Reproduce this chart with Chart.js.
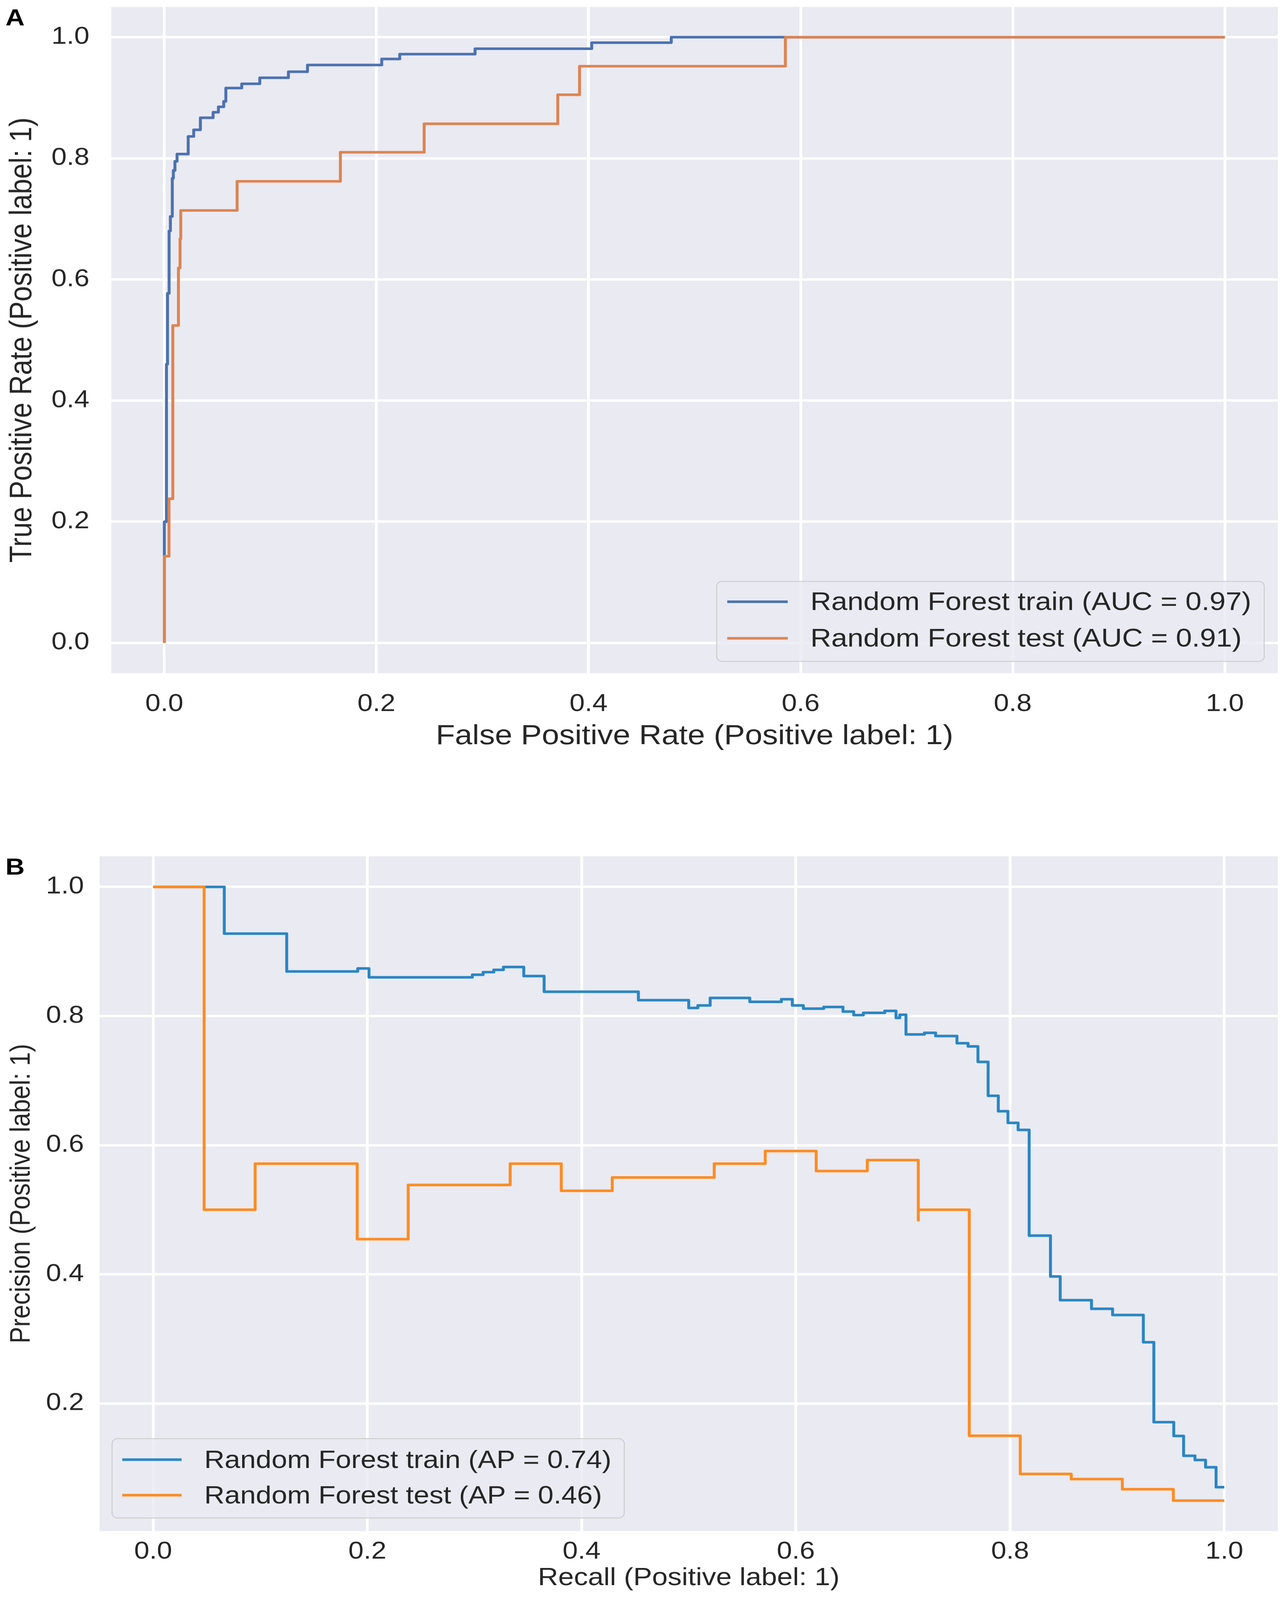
<!DOCTYPE html>
<html>
<head>
<meta charset="utf-8">
<script src="https://cdn.jsdelivr.net/npm/chart.js@4.4.1/dist/chart.umd.min.js"></script>
<style>
  html { overflow: hidden; }
  html, body { margin: 0; padding: 0; background: #fff; }
  body { width: 3280px; height: 4640px; position: relative; overflow: hidden; font-family: "Liberation Sans", Arial, sans-serif; transform-origin: 0 0; }
  .panel { position: absolute; left: 0; width: 3280px; }
  #wrapA { top: 0; height: 2250px; }
  #wrapB { top: 2300px; height: 2340px; }
  .tag { position: absolute; font-weight: bold; font-size: 68px; line-height: 1; color: #000; }
</style>
</head>
<body>
<div class="panel" id="wrapA"><canvas id="rocChart" width="3280" height="2250" style="width:3280px;height:2250px"></canvas></div>
<div class="panel" id="wrapB"><canvas id="prChart" width="3280" height="2340" style="width:3280px;height:2340px"></canvas></div>
<div class="tag" style="left:14px;top:16px">A</div>
<div class="tag" style="left:14px;top:2478px">B</div>
<script>
// ROC curve (panel A), step corners
var rocTrainFpr = [0, 0.002, 0.003, 0.0045, 0.0057, 0.0075, 0.0085, 0.010, 0.012, 0.0225, 0.0277, 0.034, 0.046, 0.051, 0.056, 0.058, 0.073, 0.090, 0.117, 0.135, 0.205, 0.222, 0.293, 0.403, 0.478, 1.0];
var rocTrainTpr = [0, 0.2, 0.46, 0.577, 0.68, 0.704, 0.767, 0.78, 0.795, 0.807, 0.836, 0.847, 0.867, 0.876, 0.885, 0.894, 0.916, 0.923, 0.933, 0.943, 0.954, 0.964, 0.972, 0.981, 0.991, 1.0];
var rocTestFpr = [0, 0.0044, 0.008, 0.0133, 0.0148, 0.0155, 0.0686, 0.166, 0.245, 0.371, 0.3915, 0.5856, 1.0];
var rocTestTpr = [0, 0.143, 0.238, 0.524, 0.619, 0.667, 0.714, 0.762, 0.810, 0.857, 0.905, 0.952, 1.0];

// precision-recall curve (panel B)
var prTrainRecall = [0, 0.0664, 0.1247, 0.191, 0.2015, 0.298, 0.308, 0.318, 0.327, 0.346, 0.365, 0.453, 0.500, 0.5085, 0.520, 0.557, 0.5865, 0.5967, 0.607, 0.626, 0.644, 0.654, 0.663, 0.683, 0.6935, 0.697, 0.7028, 0.720, 0.7305, 0.7504, 0.7608, 0.770, 0.7795, 0.789, 0.798, 0.8075, 0.8178, 0.8377, 0.8468, 0.876, 0.8957, 0.9244, 0.9342, 0.9528, 0.962, 0.9726, 0.9825, 0.9923, 1.0];
var prTrainPrecision = [1.0, 1.0, 0.9276, 0.869, 0.8737, 0.860, 0.864, 0.868, 0.8715, 0.876, 0.862, 0.8377, 0.8246, 0.8126, 0.8164, 0.828, 0.822, 0.826, 0.8164, 0.8115, 0.814, 0.807, 0.8015, 0.805, 0.808, 0.797, 0.802, 0.7716, 0.774, 0.769, 0.758, 0.753, 0.729, 0.6765, 0.6526, 0.6346, 0.6237, 0.460, 0.3967, 0.360, 0.3466, 0.337, 0.2949, 0.1711, 0.1498, 0.119, 0.1125, 0.1013, 0.0705];
var prTestRecall = [0, 0.0476, 0.0952, 0.1905, 0.2381, 0.3333, 0.381, 0.4286, 0.5238, 0.5714, 0.619, 0.6667, 0.7143, 0.7143, 0.7619, 0.8095, 0.8571, 0.9048, 0.9524, 1.0];
var prTestPrecision = [1.0, 1.0, 0.5, 0.5714, 0.4545, 0.5385, 0.5714, 0.5294, 0.55, 0.5714, 0.5909, 0.56, 0.5769, 0.4839, 0.5, 0.15, 0.0909, 0.083, 0.0672, 0.0496];

var unitTicks = [0, 0.2, 0.4, 0.6, 0.8, 1.0];
var prYTicks = [0.2, 0.4, 0.6, 0.8, 1.0];

var rocLabels = ['Random Forest train (AUC = 0.97)', 'Random Forest test (AUC = 0.91)'];
var prLabels = ['Random Forest train (AP = 0.74)', 'Random Forest test (AP = 0.46)'];
var rocTitles = ['False Positive Rate (Positive label: 1)', 'True Positive Rate (Positive label: 1)'];
var prTitles = ['Recall (Positive label: 1)', 'Precision (Positive label: 1)'];

var FONT = "'Liberation Sans', Arial, sans-serif";
var TEXT = '#262626';
var PLOT_BG = '#eaeaf2';

// the figure is 4640 tall; squeeze it to the window if the window is shorter
(function fitHeight() {
    var h = window.innerHeight;
    if (h > 1000 && h < 4640) {
        document.body.style.transform = 'scale(1,' + (h / 4640) + ')';
    }
})();

function toPoints(xs, ys) {
    var pts = [];
    for (var i = 0; i < xs.length; i++) {
        pts.push({x: xs[i], y: ys[i]});
    }
    return pts;
}

function curve(label, xs, ys, color, order) {
    return {
        label: label,
        data: toPoints(xs, ys),
        borderColor: color,
        backgroundColor: color,
        borderWidth: 7.5,
        borderJoinStyle: 'round',
        pointRadius: 0,
        stepped: 'after',
        fill: false,
        order: order
    };
}

function roundedRect(ctx, x, y, w, h, r) {
    ctx.beginPath();
    ctx.moveTo(x + r, y);
    ctx.lineTo(x + w - r, y);
    ctx.arcTo(x + w, y, x + w, y + r, r);
    ctx.lineTo(x + w, y + h - r);
    ctx.arcTo(x + w, y + h, x + w - r, y + h, r);
    ctx.lineTo(x + r, y + h);
    ctx.arcTo(x, y + h, x, y + h - r, r);
    ctx.lineTo(x, y + r);
    ctx.arcTo(x, y, x + r, y, r);
    ctx.closePath();
}

var plotBackground = {
    id: 'plotBackground',
    beforeDraw: function(chart) {
        var a = chart.chartArea, ctx = chart.ctx;
        ctx.save();
        ctx.fillStyle = PLOT_BG;
        ctx.fillRect(a.left, a.top, a.right - a.left, a.bottom - a.top);
        ctx.restore();
    }
};

// matplotlib style framed legend inside the plot area
function boxLegend(o) {
    return {
        id: 'boxLegend',
        afterDraw: function(chart) {
            var ctx = chart.ctx, a = chart.chartArea;
            var sets = chart.data.datasets;
            ctx.save();
            ctx.font = o.fontSize + 'px ' + FONT;
            var textW = 0;
            sets.forEach(function(d) { textW = Math.max(textW, ctx.measureText(d.label).width); });
            var w = o.padLeft + o.sample + o.gap + textW + o.padRight;
            var x = o.side === 'right' ? a.right - o.inset - w : a.left + o.inset;
            var y = a.bottom - o.insetBottom - o.height;
            roundedRect(ctx, x, y, w, o.height, 14);
            ctx.fillStyle = 'rgba(234,234,242,0.8)';
            ctx.fill();
            ctx.lineWidth = 2.5;
            ctx.strokeStyle = '#cccccc';
            ctx.stroke();
            sets.forEach(function(d, i) {
                var rowY = y + o.firstRow + i * o.rowGap;
                ctx.beginPath();
                ctx.moveTo(x + o.padLeft, rowY);
                ctx.lineTo(x + o.padLeft + o.sample, rowY);
                ctx.strokeStyle = d.borderColor;
                ctx.lineWidth = d.borderWidth;
                ctx.stroke();
                ctx.fillStyle = TEXT;
                ctx.textAlign = 'left';
                ctx.textBaseline = 'middle';
                ctx.fillText(d.label, x + o.padLeft + o.sample + o.gap, rowY + 4);
            });
            ctx.restore();
        }
    };
}

function linearAxis(o) {
    return {
        type: 'linear',
        min: o.min,
        max: o.max,
        afterBuildTicks: function(scale) {
            scale.ticks = o.ticks.map(function(v) { return {value: v}; });
        },
        afterFit: function(scale) {
            // fixed axis boxes so the plot area sits where it does in the figure
            if (o.width) scale.width = o.width;
            if (o.height) scale.height = o.height;
            scale.paddingTop = 0;
            scale.paddingBottom = 0;
            scale.paddingLeft = 0;
            scale.paddingRight = 0;
        },
        grid: { color: '#ffffff', lineWidth: 7, drawTicks: false },
        border: { display: false },
        ticks: {
            color: TEXT,
            font: { family: FONT, size: o.tickSize },
            padding: o.tickPad,
            autoSkip: false,
            maxRotation: 0,
            includeBounds: false,
            callback: function(v) { return Number(v).toFixed(1); }
        },
        title: {
            display: true,
            text: o.title,
            color: TEXT,
            font: { family: FONT, size: o.titleSize },
            padding: o.titlePad
        }
    };
}

new Chart(document.getElementById('rocChart'), {
    type: 'line',
    data: {
        datasets: [
            curve(rocLabels[0], rocTrainFpr, rocTrainTpr, '#4c72b0', 1),
            curve(rocLabels[1], rocTestFpr, rocTestTpr, '#dd8452', 0)
        ]
    },
    options: {
        responsive: false,
        devicePixelRatio: 1,
        animation: false,
        events: [],
        layout: { padding: { top: 20, right: 8, left: 0, bottom: 0 } },
        plugins: { legend: { display: false }, tooltip: { enabled: false } },
        scales: {
            x: linearAxis({ min: -0.05, max: 1.05, ticks: unitTicks, height: 298, tickSize: 70, tickPad: 49,
                title: rocTitles[0], titleSize: 80, titlePad: { top: 0, bottom: 66 } }),
            y: linearAxis({ min: -0.05, max: 1.05, ticks: unitTicks, width: 285, tickSize: 70, tickPad: 56,
                title: rocTitles[1], titleSize: 80, titlePad: { top: 10, bottom: 0 } })
        }
    },
    plugins: [plotBackground, boxLegend({ side: 'right', inset: 35, insetBottom: 34, height: 232,
        fontSize: 74, padLeft: 27, sample: 155, gap: 58, padRight: 33, firstRow: 59, rowGap: 106 })]
});

new Chart(document.getElementById('prChart'), {
    type: 'line',
    data: {
        datasets: [
            curve(prLabels[0], prTrainRecall, prTrainPrecision, '#2a86c3', 1),
            curve(prLabels[1], prTestRecall, prTestPrecision, '#fd8c22', 0)
        ]
    },
    options: {
        responsive: false,
        devicePixelRatio: 1,
        animation: false,
        events: [],
        layout: { padding: { top: 183, right: 8, left: 0, bottom: 0 } },
        plugins: { legend: { display: false }, tooltip: { enabled: false } },
        scales: {
            x: linearAxis({ min: -0.05, max: 1.05, ticks: unitTicks, height: 200, tickSize: 70, tickPad: 19,
                title: prTitles[0], titleSize: 72, titlePad: { top: 0, bottom: 20 } }),
            y: linearAxis({ min: 0.0025, max: 1.0475, ticks: prYTicks, width: 255, tickSize: 70, tickPad: 40,
                title: prTitles[1], titleSize: 72, titlePad: { top: 13, bottom: 0 } })
        }
    },
    plugins: [plotBackground, boxLegend({ side: 'left', inset: 32, insetBottom: 38, height: 230,
        fontSize: 72, padLeft: 26, sample: 152, gap: 58, padRight: 33, firstRow: 61, rowGap: 103 })]
});
</script>
</body>
</html>
